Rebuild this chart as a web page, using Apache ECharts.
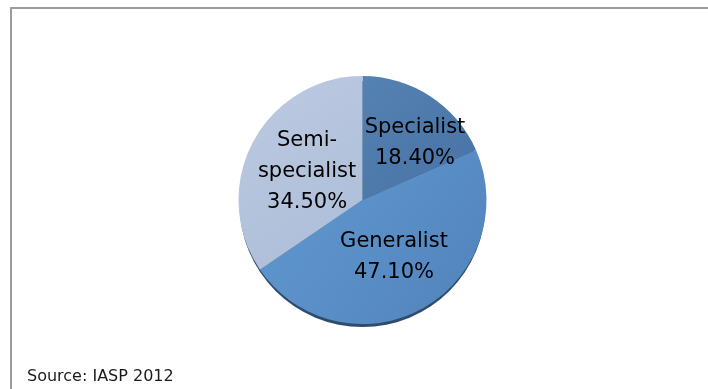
<!DOCTYPE html>
<html>
<head>
<meta charset="utf-8">
<script src="https://cdn.jsdelivr.net/npm/echarts@6/dist/echarts.min.js"></script>
<style>
html,body{margin:0;padding:0;background:#fff;}
#chart{width:708px;height:389px;}
</style>
</head>
<body>
<div id="chart"></div>
<script>
var categories = ['Specialist', 'Generalist', 'Semi-specialist'];
var values = [18.4, 47.1, 34.5];
var sourceText = 'Source: IASP 2012';

var colors = [
  ['#5482b3', '#4872a3'],
  ['#6199d1', '#5283bb'],
  ['#bccae1', '#adbdd8']
];

var chart = echarts.init(document.getElementById('chart'), null, {renderer: 'canvas'});

var data = categories.map(function (c, i) {
  return {
    name: c,
    value: values[i],
    itemStyle: {
      color: new echarts.graphic.LinearGradient(0, 0, 1, 1, [
        {offset: 0, color: colors[i][0]},
        {offset: 1, color: colors[i][1]}
      ])
    }
  };
});

chart.setOption({
  animation: false,
  title: {
    text: sourceText,
    left: 22,
    top: 364,
    textStyle: {fontFamily: 'DejaVu Sans', fontSize: 16, fontWeight: 'normal', color: '#1a1a1a'}
  },
  graphic: [{
    type: 'rect',
    shape: {x: 11, y: 8, width: 720, height: 420},
    style: {fill: 'none', stroke: '#9c9c9c', lineWidth: 2},
    silent: true,
    z: -10
  }],
  series: [
    {
      type: 'pie',
      silent: true,
      center: [362.5, 204],
      radius: 123,
      startAngle: 90,
      label: {show: false},
      labelLine: {show: false},
      itemStyle: {color: '#2e4c6e', borderWidth: 0},
      data: [{name: '', value: 1}],
      z: 1
    },
    {
      type: 'pie',
      center: [362.5, 200],
      radius: 124,
      startAngle: 90,
      clockwise: true,
      z: 2,
      itemStyle: {borderWidth: 0},
      label: {
        show: true,
        position: 'inside',
        fontFamily: 'DejaVu Sans',
        fontSize: 21,
        lineHeight: 31,
        color: '#000',
        align: 'center',
        formatter: function (p) {
          return p.name.replace('-', '-\n') + '\n' + p.value.toFixed(2) + '%';
        }
      },
      labelLine: {show: false},
      labelLayout: function (params) {
        if (params.dataIndex === 0) {
          return {dx: 17, dy: -3};
        }
        if (params.dataIndex === 2) {
          return {dx: 2, dy: 2};
        }
        return {};
      },
      data: data
    }
  ]
});
</script>
</body>
</html>
